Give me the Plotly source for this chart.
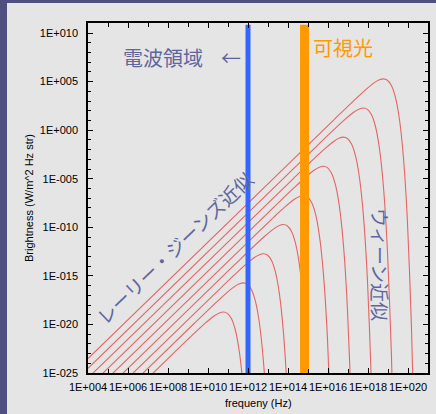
import plotly.graph_objects as go

# ---------------- data (log10 values) ----------------
# Blackbody curves, T = 1e8 K ... 1 K (frequency exponent, brightness exponent)
nu_T1e8 = [4, 16.32, 17.32, 17.82, 18.32, 18.57, 18.77, 18.97, 19.17, 19.37, 19.57, 19.77, 19.97, 20.17, 20.27]
b_T1e8 = [-23.51, 1.12, 3.10, 4.05, 4.89, 5.18, 5.28, 5.14, 4.60, 3.40, 1.15, -2.77, -9.33, -20.07, -27.73]

nu_T1e7 = [4, 15.32, 16.32, 16.82, 17.32, 17.57, 17.77, 17.97, 18.17, 18.37, 18.57, 18.77, 18.97, 19.17, 19.27]
b_T1e7 = [-24.51, -1.88, 0.10, 1.05, 1.89, 2.18, 2.28, 2.14, 1.60, 0.40, -1.85, -5.77, -12.33, -23.07, -30.73]

nu_T1e6 = [4, 14.32, 15.32, 15.82, 16.32, 16.57, 16.77, 16.97, 17.17, 17.37, 17.57, 17.77, 17.97, 18.17, 18.27]
b_T1e6 = [-25.51, -4.88, -2.90, -1.95, -1.11, -0.82, -0.72, -0.86, -1.40, -2.60, -4.85, -8.77, -15.33, -26.07, -33.73]

nu_T1e5 = [4, 13.32, 14.32, 14.82, 15.32, 15.57, 15.77, 15.97, 16.17, 16.37, 16.57, 16.77, 16.97, 17.17, 17.27]
b_T1e5 = [-26.51, -7.88, -5.90, -4.95, -4.11, -3.82, -3.72, -3.86, -4.40, -5.60, -7.85, -11.77, -18.33, -29.07, -36.73]

nu_T1e4 = [4, 12.32, 13.32, 13.82, 14.32, 14.57, 14.77, 14.97, 15.17, 15.37, 15.57, 15.77, 15.97, 16.17, 16.27]
b_T1e4 = [-27.51, -10.88, -8.90, -7.95, -7.11, -6.82, -6.72, -6.86, -7.40, -8.60, -10.85, -14.77, -21.33, -32.07, -39.73]

nu_T1e3 = [4, 11.32, 12.32, 12.82, 13.32, 13.57, 13.77, 13.97, 14.17, 14.37, 14.57, 14.77, 14.97, 15.17, 15.27]
b_T1e3 = [-28.51, -13.88, -11.90, -10.95, -10.11, -9.82, -9.72, -9.86, -10.40, -11.60, -13.85, -17.77, -24.33, -35.07, -42.73]

nu_T1e2 = [4, 10.32, 11.32, 11.82, 12.32, 12.57, 12.77, 12.97, 13.17, 13.37, 13.57, 13.77, 13.97, 14.17, 14.27]
b_T1e2 = [-29.51, -16.88, -14.90, -13.95, -13.11, -12.82, -12.72, -12.86, -13.40, -14.60, -16.85, -20.77, -27.33, -38.07, -45.73]

nu_T1e1 = [4, 9.32, 10.32, 10.82, 11.32, 11.57, 11.77, 11.97, 12.17, 12.37, 12.57, 12.77, 12.97, 13.17, 13.27]
b_T1e1 = [-30.51, -19.88, -17.90, -16.95, -16.11, -15.82, -15.72, -15.86, -16.40, -17.60, -19.85, -23.77, -30.33, -41.07, -48.73]

nu_T1e0 = [4, 8.32, 9.32, 9.82, 10.32, 10.57, 10.77, 10.97, 11.17, 11.37, 11.57, 11.77, 11.97, 12.17, 12.27]
b_T1e0 = [-31.51, -22.88, -20.90, -19.95, -19.11, -18.82, -18.72, -18.86, -19.40, -20.60, -22.85, -26.77, -33.33, -44.07, -51.73]

curves = [
    ("T=1e8 K", nu_T1e8, b_T1e8),
    ("T=1e7 K", nu_T1e7, b_T1e7),
    ("T=1e6 K", nu_T1e6, b_T1e6),
    ("T=1e5 K", nu_T1e5, b_T1e5),
    ("T=1e4 K", nu_T1e4, b_T1e4),
    ("T=1e3 K", nu_T1e3, b_T1e3),
    ("T=1e2 K", nu_T1e2, b_T1e2),
    ("T=1e1 K", nu_T1e1, b_T1e1),
    ("T=1 K", nu_T1e0, b_T1e0),
]

# vertical marker bands (frequency in Hz)
radio_limit_hz = 1.0e12
visible_hz = 6.7e14
band_bottom = 1e-25
band_top = 7e10

# tick labels
x_tick_exps = [4, 6, 8, 10, 12, 14, 16, 18, 20]
x_tick_labels = ["1E+004", "1E+006", "1E+008", "1E+010", "1E+012",
                 "1E+014", "1E+016", "1E+018", "1E+020"]
x_minor_exps = list(range(4, 22))
y_tick_exps = [10, 5, 0, -5, -10, -15, -20, -25]
y_tick_labels = ["1E+010", "1E+005", "1E+000", "1E-005",
                 "1E-010", "1E-015", "1E-020", "1E-025"]
y_minor_exps = list(range(-25, 12))

# ---------------- figure ----------------
PANEL = "#e5e5e5"
PURPLE = "#4f4f80"
TEXTBLUE = "#61659f"
CURVE = "rgba(230,78,78,0.85)"

fig = go.Figure()
for name, nus, bs in curves:
    fig.add_trace(go.Scatter(
        x=[10.0 ** v for v in nus], y=[10.0 ** v for v in bs],
        mode="lines", name=name, line=dict(color=CURVE, width=1.1, shape="spline", smoothing=0.8),
        hoverinfo="skip", showlegend=False))

fig.add_trace(go.Scatter(x=[radio_limit_hz, radio_limit_hz], y=[band_bottom, band_top],
                         mode="lines", line=dict(color="#3366ff", width=5), showlegend=False))
fig.add_trace(go.Scatter(x=[visible_hz, visible_hz], y=[band_bottom, band_top],
                         mode="lines", line=dict(color="#ff9900", width=9), showlegend=False))

axis_common = dict(type="log", showgrid=False, zeroline=False, showline=True,
                   linecolor="black", linewidth=1.5, mirror="ticks", ticks="inside",
                   ticklen=5, tickwidth=1.2, tickcolor="black", tickangle=0,
                   tickfont=dict(family="Liberation Sans, Arial, sans-serif", size=11, color="black"))

fig.update_xaxes(**axis_common, range=[4, 21], ticklabelstandoff=3,
                 tickmode="array", tickvals=[10.0 ** e for e in x_tick_exps], ticktext=x_tick_labels,
                 minor=dict(tickmode="array", tickvals=[10.0 ** e for e in x_minor_exps],
                            ticks="inside", ticklen=4, tickwidth=1.2, tickcolor="black"))
fig.update_yaxes(**axis_common, range=[-25, 11.03], ticklabelstandoff=6,
                 tickmode="array", tickvals=[10.0 ** e for e in y_tick_exps], ticktext=y_tick_labels,
                 minor=dict(tickmode="array", tickvals=[10.0 ** e for e in y_minor_exps],
                            ticks="inside", ticklen=3, tickwidth=1.2, tickcolor="black"))

W, H = 436, 414
L, R, T, B = 88, 8, 23, 41
pw, ph = W - L - R, H - T - B

def px(xp):
    return (xp - L) / pw

def py(yp):
    return (H - B - yp) / ph

jp = "Noto Sans CJK JP, sans-serif"
ann = [
    dict(text="電波領域", x=px(163), y=py(58), font=dict(family=jp, size=20, color=TEXTBLUE)),
    dict(text="←", x=px(231), y=py(58), font=dict(family=jp, size=20, color=TEXTBLUE)),
    dict(text="可視光", x=px(342.5), y=py(47.5), font=dict(family=jp, size=20, color="#ff9900")),
    dict(text="レーリー・ジーンズ近似", x=px(174), y=py(247), textangle=-44,
         font=dict(family=jp, size=19, color=TEXTBLUE)),
    dict(text="ウィーン近似", x=px(381), y=py(264), textangle=90,
         font=dict(family=jp, size=19, color=TEXTBLUE)),
    dict(text="Brightness (W/m^2 Hz str)", x=px(29), y=0.5, textangle=-90,
         font=dict(family="Liberation Sans, Arial, sans-serif", size=11, color="black")),
    dict(text="frequeny (Hz)", x=0.5, y=py(403),
         font=dict(family="Liberation Sans, Arial, sans-serif", size=11, color="black")),
]
for a in ann:
    a.update(xref="paper", yref="paper", showarrow=False, xanchor="center", yanchor="middle")

fig.update_layout(
    width=W, height=H, margin=dict(l=L, r=R, t=T, b=B, autoexpand=False),
    paper_bgcolor=PANEL, plot_bgcolor=PANEL, annotations=ann,
    shapes=[
        dict(type="rect", xref="paper", yref="paper", x0=px(0), x1=px(7), y0=py(H), y1=py(0),
             fillcolor=PURPLE, line=dict(width=0), layer="below"),
        dict(type="rect", xref="paper", yref="paper", x0=px(0), x1=px(W), y0=py(3), y1=py(0),
             fillcolor=PURPLE, line=dict(width=0), layer="below"),
    ],
)

fig.write_html("out.html", config={"displayModeBar": False},
               post_script="document.body.style.margin='0';document.body.style.overflow='hidden';")
